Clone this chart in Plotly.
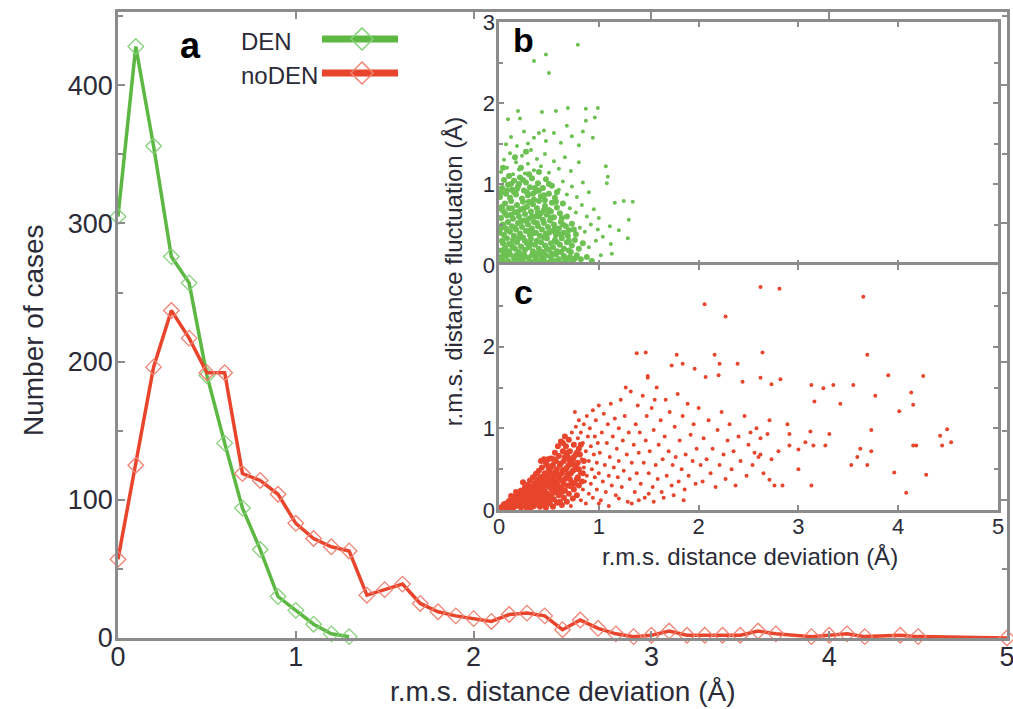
import plotly.graph_objects as go

# panel a: histogram of r.m.s. distance deviation (Å)
den_x = [0.0, 0.1, 0.2, 0.3, 0.4, 0.5, 0.6, 0.7, 0.8, 0.9, 1.0, 1.1, 1.2, 1.3]
den_y = [305, 428, 356, 276, 257, 190, 141, 94, 64, 30, 20, 10, 3, 1]

noden_x = [0.0, 0.1, 0.2, 0.3, 0.4, 0.5, 0.6, 0.7, 0.8, 0.9,
           1.0, 1.1, 1.2, 1.3, 1.4, 1.5, 1.6, 1.7, 1.8, 1.9,
           2.0, 2.1, 2.2, 2.3, 2.4, 2.5, 2.6, 2.7, 2.8, 2.9,
           3.0, 3.1, 3.2, 3.3, 3.4, 3.5, 3.6, 3.7,
           3.9, 4.0, 4.1, 4.2, 4.4, 4.5, 5.0]
noden_y = [57, 125, 196, 237, 217, 192, 192, 119, 114, 104,
           83, 72, 66, 63, 31, 35, 39, 25, 19, 16,
           14, 12, 17, 18, 16, 6, 13, 7, 3, 1,
           2, 5, 2, 2, 2, 2, 5, 3,
           1, 2, 3, 1, 2, 1, 0]

# panel b: DEN, (deviation, fluctuation) pairs
den_core = [
    (0.01, 0.02), (0.03, 0.08), (0.05, 0.03), (0.07, 0.11), (0.09, 0.05), (0.11, 0.13), (0.13, 0.02), (0.15, 0.08),
    (0.17, 0.12), (0.19, 0.04), (0.21, 0.1), (0.23, 0.06), (0.25, 0.13), (0.27, 0.02), (0.29, 0.09), (0.31, 0.05),
    (0.33, 0.12), (0.35, 0.03), (0.37, 0.08), (0.39, 0.14), (0.41, 0.04), (0.43, 0.1), (0.45, 0.06), (0.47, 0.12),
    (0.5, 0.03), (0.52, 0.09), (0.55, 0.05), (0.57, 0.13), (0.6, 0.07), (0.63, 0.02), (0.65, 0.11), (0.68, 0.06),
    (0.71, 0.1), (0.74, 0.04), (0.78, 0.12), (0.82, 0.07), (0.88, 0.1), (0.93, 0.05),
    (0.02, 0.18), (0.04, 0.27), (0.06, 0.21), (0.08, 0.33), (0.1, 0.17), (0.12, 0.25), (0.14, 0.31), (0.16, 0.2),
    (0.18, 0.28), (0.2, 0.16), (0.22, 0.23), (0.24, 0.34), (0.26, 0.19), (0.28, 0.27), (0.3, 0.22), (0.32, 0.32),
    (0.34, 0.17), (0.36, 0.25), (0.38, 0.3), (0.4, 0.2), (0.42, 0.28), (0.44, 0.16), (0.46, 0.24), (0.48, 0.33),
    (0.5, 0.19), (0.52, 0.27), (0.54, 0.22), (0.56, 0.31), (0.58, 0.17), (0.61, 0.25), (0.63, 0.33), (0.65, 0.2),
    (0.68, 0.28), (0.7, 0.18), (0.73, 0.24), (0.76, 0.31), (0.8, 0.2), (0.84, 0.27),
    (0.01, 0.4), (0.03, 0.49), (0.05, 0.37), (0.07, 0.45), (0.09, 0.53), (0.11, 0.41), (0.13, 0.48), (0.15, 0.36),
    (0.17, 0.44), (0.19, 0.52), (0.21, 0.39), (0.23, 0.47), (0.25, 0.55), (0.27, 0.42), (0.29, 0.5), (0.31, 0.37),
    (0.33, 0.45), (0.35, 0.53), (0.37, 0.4), (0.39, 0.48), (0.41, 0.36), (0.43, 0.44), (0.45, 0.52), (0.47, 0.39),
    (0.49, 0.47), (0.51, 0.55), (0.53, 0.42), (0.55, 0.5), (0.57, 0.37), (0.6, 0.45), (0.62, 0.53), (0.65, 0.4),
    (0.67, 0.48), (0.7, 0.43), (0.73, 0.51), (0.77, 0.38),
    (0.02, 0.58), (0.04, 0.67), (0.06, 0.76), (0.08, 0.61), (0.1, 0.7), (0.12, 0.79), (0.14, 0.57), (0.16, 0.65),
    (0.18, 0.74), (0.2, 0.6), (0.22, 0.69), (0.24, 0.78), (0.26, 0.63), (0.28, 0.72), (0.3, 0.57), (0.32, 0.66),
    (0.34, 0.75), (0.36, 0.6), (0.38, 0.7), (0.4, 0.79), (0.42, 0.64), (0.44, 0.56), (0.46, 0.73), (0.48, 0.62),
    (0.5, 0.68), (0.53, 0.77), (0.55, 0.59), (0.58, 0.71), (0.61, 0.64), (0.64, 0.76), (0.68, 0.6),
    (0.01, 0.84), (0.03, 0.95), (0.05, 1.05), (0.07, 0.88), (0.09, 0.99), (0.11, 0.83), (0.13, 0.93), (0.15, 1.04),
    (0.17, 0.87), (0.19, 0.97), (0.21, 1.08), (0.23, 0.82), (0.25, 0.92), (0.27, 1.02), (0.29, 0.86), (0.31, 0.96),
    (0.33, 1.07), (0.35, 0.81), (0.37, 0.91), (0.39, 1.01), (0.42, 0.85), (0.44, 0.95), (0.47, 1.06), (0.5, 0.88),
    (0.53, 0.98), (0.56, 0.83),
    (0.06, 0.14), (0.14, 0.22), (0.24, 0.09), (0.32, 0.26), (0.42, 0.15), (0.53, 0.14), (0.62, 0.16), (0.08, 0.43),
    (0.2, 0.33), (0.34, 0.39), (0.45, 0.34), (0.58, 0.42), (0.12, 0.62), (0.27, 0.55), (0.4, 0.6), (0.52, 0.58),
    (0.15, 0.9), (0.3, 0.78), (0.46, 0.8), (0.03, 0.72), (0.62, 0.38), (0.69, 0.36), (0.36, 0.95), (0.2, 1.0),
    (0.05, 0.16), (0.1, 0.26), (0.18, 0.07), (0.26, 0.3), (0.36, 0.14), (0.48, 0.2), (0.58, 0.28), (0.66, 0.08),
    (0.72, 0.16), (0.76, 0.08), (0.04, 0.5), (0.16, 0.46), (0.22, 0.54), (0.3, 0.42), (0.38, 0.52), (0.5, 0.4),
    (0.56, 0.46), (0.64, 0.5), (0.7, 0.3), (0.75, 0.44), (0.06, 0.64), (0.13, 0.7), (0.19, 0.66), (0.25, 0.7),
    (0.33, 0.6), (0.39, 0.65), (0.45, 0.68), (0.52, 0.66), (0.57, 0.78), (0.63, 0.58), (0.08, 0.92), (0.12, 1.0),
    (0.18, 0.94), (0.24, 1.05), (0.28, 0.9), (0.34, 0.88), (0.4, 0.92), (0.45, 0.86), (0.5, 1.0), (0.58, 0.9),
    (0.1, 1.1), (0.22, 1.2), (0.3, 1.12), (0.4, 1.15), (0.16, 1.33), (0.27, 1.4), (0.02, 0.1), (0.03, 0.3),
    (0.02, 0.46), (0.01, 0.7), (0.02, 0.9), (0.04, 1.2),
]
den_sparse = [
    (0.71, 0.7), (0.77, 0.65), (0.83, 0.74), (0.88, 0.6), (0.95, 0.69), (1.0, 0.58), (0.81, 0.46), (0.86, 0.41),
    (0.92, 0.5), (0.99, 0.44), (0.9, 0.22), (0.97, 0.3), (1.02, 0.12), (1.13, 0.14),
    (0.6, 0.93), (0.64, 1.03), (0.68, 0.87), (0.73, 0.97), (0.78, 0.84), (0.84, 1.02), (0.9, 0.9),
    (1.04, 0.35), (1.12, 0.26), (1.29, 0.33), (1.11, 0.48), (1.2, 0.43), (1.16, 0.77), (1.25, 0.79), (1.34, 0.78),
    (1.3, 0.56), (1.09, 1.09), (1.08, 1.01),
    (0.02, 1.15), (0.05, 1.3), (0.08, 1.2), (0.11, 1.38), (0.14, 1.12), (0.17, 1.27), (0.2, 1.18), (0.23, 1.35),
    (0.26, 1.13), (0.29, 1.25), (0.32, 1.42), (0.35, 1.17), (0.38, 1.31), (0.42, 1.22), (0.46, 1.37), (0.5, 1.14),
    (0.55, 1.28), (0.6, 1.19), (0.66, 1.33), (0.72, 1.16), (0.8, 1.27), (1.07, 1.22),
    (0.07, 1.49), (0.18, 1.47), (0.29, 1.5), (0.47, 1.53), (0.62, 1.51), (0.8, 1.48), (0.25, 1.65), (0.4, 1.63),
    (0.45, 1.66), (0.55, 1.63), (0.84, 1.65), (0.73, 1.59), (0.94, 1.57), (0.12, 1.58), (0.35, 1.57),
    (0.68, 1.72), (0.87, 1.78), (0.96, 1.82), (0.09, 1.8), (0.21, 1.81), (0.19, 1.9), (0.43, 1.89), (0.57, 1.9),
    (0.69, 1.94), (0.87, 1.93), (0.99, 1.94), (0.35, 2.52), (0.47, 2.6), (0.5, 2.37), (0.79, 2.72),
]

# panel c: noDEN
noden_core = [
    (0.01, 0.01), (0.03, 0.02), (0.04, 0.05), (0.06, 0.03), (0.07, 0.08), (0.08, 0.01), (0.09, 0.05), (0.1, 0.11),
    (0.05, 0.07), (0.02, 0.03), (0.11, 0.03), (0.12, 0.07), (0.13, 0.13), (0.14, 0.02), (0.15, 0.09), (0.16, 0.16),
    (0.17, 0.05), (0.18, 0.12), (0.19, 0.2), (0.2, 0.08), (0.12, 0.17), (0.17, 0.22), (0.21, 0.15), (0.22, 0.03),
    (0.22, 0.24), (0.23, 0.1), (0.24, 0.19), (0.25, 0.06), (0.26, 0.28), (0.26, 0.14), (0.27, 0.22), (0.28, 0.02),
    (0.28, 0.1), (0.29, 0.31), (0.29, 0.18), (0.3, 0.25), (0.3, 0.06), (0.24, 0.34), (0.31, 0.13), (0.31, 0.36),
    (0.32, 0.21), (0.32, 0.03), (0.33, 0.29), (0.33, 0.09), (0.34, 0.17), (0.34, 0.4), (0.35, 0.25), (0.35, 0.05),
    (0.36, 0.33), (0.36, 0.12), (0.37, 0.2), (0.37, 0.44), (0.38, 0.28), (0.38, 0.08), (0.39, 0.37), (0.39, 0.15),
    (0.4, 0.23), (0.4, 0.48), (0.41, 0.04), (0.41, 0.31), (0.42, 0.11), (0.42, 0.4), (0.43, 0.19), (0.43, 0.52),
    (0.44, 0.27), (0.44, 0.07), (0.45, 0.35), (0.45, 0.15), (0.46, 0.45), (0.46, 0.23), (0.47, 0.58), (0.47, 0.03),
    (0.48, 0.31), (0.48, 0.12), (0.49, 0.4), (0.49, 0.2), (0.5, 0.5), (0.5, 0.28), (0.45, 0.62), (0.42, 0.6),
    (0.51, 0.08), (0.51, 0.36), (0.52, 0.17), (0.52, 0.63), (0.53, 0.45), (0.53, 0.25), (0.54, 0.04), (0.54, 0.55),
    (0.55, 0.33), (0.55, 0.13), (0.56, 0.7), (0.56, 0.42), (0.57, 0.22), (0.57, 0.6), (0.58, 0.5), (0.58, 0.09),
    (0.59, 0.3), (0.59, 0.78), (0.6, 0.39), (0.6, 0.18), (0.6, 0.66), (0.61, 0.55), (0.62, 0.27), (0.62, 0.84),
    (0.63, 0.45), (0.63, 0.06), (0.64, 0.72), (0.64, 0.35), (0.65, 0.15), (0.65, 0.6), (0.66, 0.9), (0.66, 0.24),
    (0.67, 0.5), (0.67, 0.78), (0.68, 0.4), (0.68, 0.1), (0.69, 0.65), (0.69, 0.3), (0.7, 0.86), (0.7, 0.2),
    (0.7, 0.55), (0.71, 0.72), (0.72, 0.45), (0.73, 0.34), (0.74, 0.62), (0.74, 0.14),
    (0.75, 0.8), (0.75, 0.25), (0.76, 0.5), (0.77, 0.68), (0.78, 0.38), (0.78, 0.18),
    (0.79, 0.58), (0.8, 0.3), (0.8, 0.75),
    (0.33, 0.22), (0.36, 0.27), (0.39, 0.31), (0.41, 0.19), (0.43, 0.33), (0.44, 0.41), (0.46, 0.3), (0.47, 0.17),
    (0.49, 0.35), (0.51, 0.44), (0.52, 0.29), (0.54, 0.38), (0.55, 0.21), (0.57, 0.47), (0.58, 0.34), (0.6, 0.26),
    (0.61, 0.43), (0.62, 0.57), (0.64, 0.49), (0.65, 0.31), (0.66, 0.65), (0.68, 0.52), (0.69, 0.44), (0.71, 0.61),
    (0.72, 0.29), (0.74, 0.48), (0.75, 0.65), (0.77, 0.55), (0.79, 0.4), (0.81, 0.68), (0.83, 0.35), (0.85, 0.6),
    (0.27, 0.15), (0.25, 0.21), (0.3, 0.18), (0.2, 0.13), (0.16, 0.1), (0.38, 0.45), (0.48, 0.55),
    (0.05, 0.02), (0.1, 0.06), (0.14, 0.12), (0.19, 0.15), (0.23, 0.18), (0.27, 0.08), (0.31, 0.28), (0.35, 0.15),
    (0.38, 0.22), (0.42, 0.26), (0.46, 0.09), (0.5, 0.14), (0.53, 0.34), (0.56, 0.28), (0.59, 0.42), (0.61, 0.1),
    (0.63, 0.22), (0.66, 0.38), (0.68, 0.7), (0.71, 0.38), (0.73, 0.56), (0.76, 0.32), (0.78, 0.7), (0.8, 0.5),
    (0.82, 0.8), (0.84, 0.45), (0.55, 0.62), (0.52, 0.52), (0.49, 0.62), (0.64, 0.82),
]
noden_spread = [
    (0.72, 0.05), (0.73, 0.95), (0.77, 1.02), (0.79, 0.88), (0.8, 1.1), (0.76, 1.2), (0.81, 0.45), (0.82, 0.12),
    (0.82, 0.95), (0.83, 0.62), (0.84, 0.25), (0.84, 0.82), (0.85, 1.05), (0.85, 0.52), (0.86, 0.35), (0.87, 0.72),
    (0.87, 0.08), (0.88, 1.15), (0.88, 0.42), (0.89, 0.9), (0.9, 0.6), (0.9, 0.2), (0.91, 1.0), (0.92, 0.32),
    (0.92, 0.78), (0.93, 0.5), (0.94, 1.22), (0.94, 0.15), (0.95, 0.68), (0.96, 0.4), (0.96, 0.9), (0.97, 1.1),
    (0.98, 0.25), (0.98, 0.58), (0.99, 0.82), (1.0, 0.45), (1.0, 1.28),
    (1.01, 0.7), (1.02, 0.12), (1.03, 0.95), (1.04, 0.35), (1.05, 1.18), (1.06, 0.55), (1.07, 0.22), (1.08, 0.82),
    (1.09, 1.05), (1.1, 0.42), (1.11, 0.65), (1.12, 1.3), (1.13, 0.3), (1.14, 0.9), (1.15, 0.52), (1.16, 1.12),
    (1.17, 0.18), (1.18, 0.75), (1.19, 0.4), (1.2, 1.0), (1.2, 0.6), (1.22, 1.35), (1.23, 0.28), (1.24, 0.85),
    (1.25, 0.48), (1.26, 1.15), (1.28, 0.68), (1.29, 0.1), (1.3, 0.95), (1.31, 0.38), (1.32, 1.45), (1.33, 0.58),
    (1.35, 0.8), (1.36, 0.22), (1.37, 1.05), (1.38, 0.45), (1.39, 1.28), (1.4, 0.7), (1.27, 1.5), (1.41, 0.95),
    (1.42, 0.32), (1.44, 1.4), (1.45, 0.58), (1.46, 0.15), (1.47, 0.85), (1.48, 1.15), (1.5, 0.45), (1.51, 0.72),
    (1.53, 1.25), (1.54, 0.28), (1.55, 0.98), (1.57, 0.55), (1.58, 1.5), (1.59, 0.38), (1.6, 0.8), (1.49, 1.62),
    (1.56, 1.35), (1.62, 1.1), (1.63, 0.22), (1.64, 0.62), (1.66, 0.9), (1.67, 1.35), (1.68, 0.42), (1.7, 0.72),
    (1.71, 1.2), (1.73, 0.3), (1.74, 0.55), (1.76, 1.02), (1.77, 0.65), (1.79, 1.42), (1.8, 0.35), (1.73, 1.77),
    (1.78, 1.9), (1.81, 0.85), (1.83, 0.5), (1.84, 1.15), (1.86, 0.25), (1.87, 0.68), (1.89, 1.3), (1.9, 0.42),
    (1.92, 0.92), (1.94, 0.6), (1.95, 1.05), (1.97, 0.32), (1.98, 0.75), (2.0, 1.25), (1.84, 1.79), (1.96, 1.73),
    (1.0, 0.08), (1.1, 0.05), (1.2, 0.14), (1.33, 0.08), (1.4, 0.12), (1.5, 0.2), (1.55, 0.1), (1.65, 0.15),
    (1.75, 0.18), (1.85, 0.12), (1.38, 1.92), (1.47, 1.93), (1.49, 1.64),
    (2.02, 0.55), (2.04, 0.35), (2.05, 0.88), (2.07, 1.63), (2.08, 0.62), (2.1, 1.1), (2.12, 0.45), (2.14, 0.75),
    (2.16, 1.9), (2.17, 0.28), (2.19, 0.98), (2.2, 1.65), (2.21, 0.55), (2.23, 1.2), (2.25, 0.68), (2.27, 0.38),
    (2.29, 0.85), (2.06, 2.52), (2.27, 2.37), (2.21, 1.79), (2.31, 1.05), (2.33, 0.5), (2.35, 0.72), (2.37, 0.3),
    (2.39, 1.79), (2.4, 0.9), (2.42, 0.6), (2.44, 1.57), (2.46, 1.15), (2.48, 0.42), (2.5, 0.8), (2.52, 0.95),
    (2.54, 0.55), (2.56, 0.7), (2.58, 1.0), (2.6, 0.65),
    (2.62, 2.73), (2.81, 2.71), (3.65, 2.61), (2.64, 1.93), (3.69, 1.9), (2.62, 1.62), (2.82, 1.6), (3.9, 1.65),
    (4.25, 1.64), (2.73, 1.54), (3.13, 1.53), (3.25, 1.49), (3.35, 1.53), (3.55, 1.53), (3.77, 1.4), (4.13, 1.44),
    (3.16, 1.33), (3.42, 1.3), (4.01, 1.21), (4.15, 1.29), (3.73, 0.98), (4.42, 0.91), (4.49, 0.99), (4.53, 0.83),
    (4.44, 0.79), (4.15, 0.79), (4.18, 0.79), (3.53, 0.55), (3.69, 0.55), (3.59, 0.65), (3.62, 0.75), (3.73, 0.72),
    (3.96, 0.46), (4.28, 0.43), (4.08, 0.21), (3.13, 0.3), (3.0, 0.74), (3.0, 0.5), (2.91, 0.79), (3.07, 0.83),
    (3.12, 0.96), (3.31, 0.93), (3.15, 0.79), (3.27, 0.79), (2.73, 0.62), (2.76, 0.3), (2.84, 0.3), (2.89, 1.05),
    (2.91, 0.93), (2.69, 0.93), (2.71, 1.1), (2.62, 0.88), (2.62, 0.68), (2.65, 0.45), (2.71, 0.37), (2.8, 0.72),
]

green = "#5cb843"
green_light = "#86d07a"
green_dot = "#6cc152"
red = "#e8452c"
red_light = "#f08272"
frame = "#8c8c8c"
txt = "#2b2b38"

fig = go.Figure()

fig.add_trace(go.Scatter(x=den_x, y=den_y, mode="lines+markers", cliponaxis=False,
                         line=dict(color=green, width=3.5),
                         marker=dict(symbol="diamond-open", size=12, color=green_light, line=dict(width=1.3))))
fig.add_trace(go.Scatter(x=noden_x, y=noden_y, mode="lines+markers", cliponaxis=False,
                         line=dict(color=red, width=3.5),
                         marker=dict(symbol="diamond-open", size=12, color=red_light, line=dict(width=1.3))))

# dense cores get bigger dots so they read as solid, as in the original
for pts, size, col, xa, ya in [(den_core, 6, green_dot, "x2", "y2"), (den_sparse, 4, green_dot, "x2", "y2"),
                               (noden_core, 6, red, "x3", "y3"), (noden_spread, 4, red, "x3", "y3")]:
    fig.add_trace(go.Scatter(x=[p[0] for p in pts], y=[p[1] for p in pts], mode="markers",
                             xaxis=xa, yaxis=ya, marker=dict(size=size, color=col)))

ax = dict(showline=True, linecolor=frame, linewidth=2.5, mirror="ticks", ticks="inside",
          tickcolor=frame, tickwidth=1.5, showgrid=False, zeroline=False, automargin=False)

fig.update_layout(
    width=1013, height=709,
    margin=dict(l=118, r=6, t=12, b=71),
    paper_bgcolor="white", plot_bgcolor="white",
    showlegend=False,
    font=dict(family="Liberation Sans, Arial, sans-serif", color=txt),
    xaxis=dict(ax, range=[0, 5], dtick=1, ticklen=7, tickfont=dict(size=27),
               ticklabeloverflow="allow", ticklabelstandoff=-7),
    yaxis=dict(ax, range=[0, 453], dtick=100, ticklen=7, tickfont=dict(size=27), ticklabelstandoff=-3,
               minor=dict(ticks="inside", dtick=50, ticklen=5, tickcolor=frame)),
    xaxis2=dict(ax, domain=[0.4286, 0.9899], anchor="y2", range=[0, 5], dtick=1, ticklen=5,
                showticklabels=False),
    yaxis2=dict(ax, domain=[0.5958, 0.984], anchor="x2", range=[0, 3], tickvals=[0, 1, 2, 3],
                ticklen=5, tickfont=dict(size=22), ticklabelstandoff=-3,
                minor=dict(ticks="inside", dtick=0.5, ticklen=4, tickcolor=frame)),
    xaxis3=dict(ax, domain=[0.4286, 0.9899], anchor="y3", range=[0, 5], dtick=1, ticklen=5,
                tickfont=dict(size=22), ticklabelstandoff=-5),
    yaxis3=dict(ax, domain=[0.2045, 0.5958], anchor="x3", range=[0, 3], tickvals=[0, 1, 2, 3],
                ticktext=["0", "1", "2", ""], ticklen=5, tickfont=dict(size=22), ticklabelstandoff=-3,
                minor=dict(ticks="inside", dtick=0.5, ticklen=4, tickcolor=frame)),
)

# titles and panel letters
notes = [
    dict(text="r.m.s. distance deviation (Å)", x=0.5, y=-0.085, size=28, angle=0),
    dict(text="Number of cases", x=-0.0956, y=0.492, size=28, angle=-90),
    dict(text="r.m.s. distance deviation (Å)", x=0.711, y=0.13, size=24, angle=0),
    dict(text="r.m.s. distance fluctuation (Å)", x=0.3768, y=0.586, size=24, angle=-90),
    dict(text="<b>a</b>", x=0.082, y=0.947, size=36, angle=0),
    dict(text="<b>b</b>", x=0.4556, y=0.955, size=34, angle=0),
    dict(text="<b>c</b>", x=0.4556, y=0.5527, size=34, angle=0),
]
for n in notes:
    col = "black" if "<b>" in n["text"] else txt
    fig.add_annotation(text=n["text"], x=n["x"], y=n["y"], xref="paper", yref="paper",
                       showarrow=False, textangle=n["angle"], font=dict(size=n["size"], color=col),
                       xanchor="center", yanchor="middle")

# legend drawn the way the original has it: text first, then line sample
for name, col, col_l, ly in [("DEN", green, green_light, 0.957), ("noDEN", red, red_light, 0.9026)]:
    fig.add_annotation(text=name, x=0.136, y=ly - 0.004, xref="paper", yref="paper", showarrow=False,
                       xanchor="left", yanchor="middle", font=dict(size=24, color=txt))
    fig.add_shape(type="line", xref="paper", yref="paper", x0=0.2295, x1=0.315, y0=ly, y1=ly,
                  line=dict(color=col, width=7))
    fig.add_shape(type="path", xref="paper", yref="paper", xsizemode="pixel", ysizemode="pixel",
                  xanchor=0.2745, yanchor=ly, path="M 0 11 L 11 0 L 0 -11 L -11 0 Z",
                  line=dict(color=col_l, width=1.5), fillcolor="rgba(0,0,0,0)")

# the page's default body margin would push the figure 8 px off
fig.write_html("out.html", config={"displayModeBar": False},
               post_script="document.body.style.margin = '0';")
